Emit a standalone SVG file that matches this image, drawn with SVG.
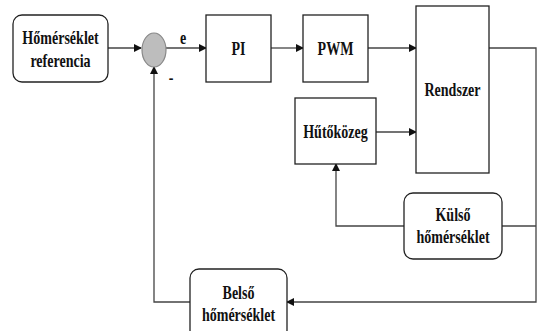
<svg xmlns="http://www.w3.org/2000/svg" width="541" height="331" viewBox="0 0 541 331">
<style>
.box{fill:#fff;stroke:#222;stroke-width:1.3}
.ln{fill:none;stroke:#444;stroke-width:1.3}
.t{font-family:'Liberation Serif','DejaVu Serif','Times New Roman',serif;font-weight:bold;font-size:18px;fill:#111;text-anchor:middle;dominant-baseline:central}
</style>
<defs>
<marker id="ar" markerWidth="8" markerHeight="8" refX="7" refY="4" orient="auto" markerUnits="userSpaceOnUse">
<path d="M0,0 L8,4 L0,8 Z" fill="#111"/>
</marker>
</defs>
<rect width="541" height="331" fill="#fff"/>
<g id="connectors">
<path class="ln" d="M108,48 H141" marker-end="url(#ar)"/>
<path class="ln" d="M166,48 H206" marker-end="url(#ar)"/>
<path class="ln" d="M271,48 H303" marker-end="url(#ar)"/>
<path class="ln" d="M368,48 H416" marker-end="url(#ar)"/>
<path class="ln" d="M376,132 H416" marker-end="url(#ar)"/>
<path class="ln" d="M489,48 H536 V302 H287" marker-end="url(#ar)"/>
<path class="ln" d="M536,226 H502"/>
<path class="ln" d="M404,226 H336 V164" marker-end="url(#ar)"/>
<path class="ln" d="M190,302 H154 V67" marker-end="url(#ar)"/>
</g>
<g id="ref">
<rect class="box" x="13" y="15" width="95" height="67" rx="9"/>
<text class="t" transform="translate(60.5,38) scale(0.78,1)">Hőmérséklet</text>
<text class="t" transform="translate(60.5,61) scale(0.78,1)">referencia</text>
</g>
<g id="sum">
<ellipse cx="154" cy="50" rx="12" ry="17" fill="#bdbdbd" stroke="#888" stroke-width="1.2"/>
</g>
<g id="labels">
<text class="t" transform="translate(183,38) scale(0.78,1)">e</text>
<text class="t" transform="translate(171,78) scale(0.78,1)">-</text>
</g>
<g id="pi">
<rect class="box" x="206" y="15" width="65" height="67"/>
<text class="t" transform="translate(238.5,49) scale(0.78,1)">PI</text>
</g>
<g id="pwm">
<rect class="box" x="303" y="15" width="65" height="67"/>
<text class="t" transform="translate(335.5,49) scale(0.78,1)">PWM</text>
</g>
<g id="rendszer">
<rect class="box" x="416" y="6" width="73" height="167"/>
<text class="t" transform="translate(452.5,90) scale(0.78,1)">Rendszer</text>
</g>
<g id="hutokozeg">
<rect class="box" x="295" y="98" width="81" height="66"/>
<text class="t" transform="translate(335.5,132) scale(0.78,1)">Hűtőközeg</text>
</g>
<g id="kulso">
<rect class="box" x="404" y="193" width="98" height="66" rx="9"/>
<text class="t" transform="translate(453,215) scale(0.78,1)">Külső</text>
<text class="t" transform="translate(453,237) scale(0.78,1)">hőmérséklet</text>
</g>
<g id="belso">
<rect class="box" x="190" y="269" width="97" height="70" rx="9"/>
<text class="t" transform="translate(238.5,293) scale(0.78,1)">Belső</text>
<text class="t" transform="translate(238.5,315) scale(0.78,1)">hőmérséklet</text>
</g>
</svg>
